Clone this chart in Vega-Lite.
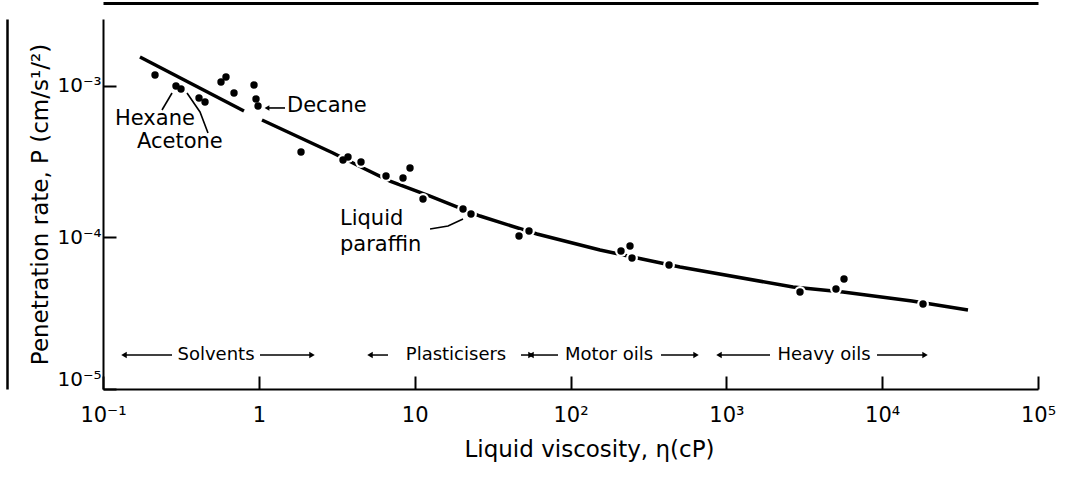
{
  "$schema": "https://vega.github.io/schema/vega-lite/v6.json",
  "width": 935,
  "height": 370,
  "autosize": {"type": "none"},
  "padding": {"left": 103, "top": 19, "right": 41, "bottom": 97},
  "background": "white",
  "config": {
    "view": {"stroke": null},
    "font": "DejaVu Sans",
    "axis": {"grid": false, "domainColor": "black", "tickColor": "black", "labelColor": "black", "titleColor": "black", "labelFont": "DejaVu Sans", "titleFont": "DejaVu Sans", "titleFontWeight": "normal", "labelFlush": false, "labelOverlap": false}
  },
  "datasets": {
    "points": [
      {"eta": 0.2157, "P": 0.001182}, {"eta": 0.294, "P": 0.001}, {"eta": 0.3166, "P": 0.0009555},
      {"eta": 0.4131, "P": 0.0008333}, {"eta": 0.4515, "P": 0.0007843}, {"eta": 0.5718, "P": 0.001063},
      {"eta": 0.6155, "P": 0.001147}, {"eta": 0.6929, "P": 0.000899}, {"eta": 0.9311, "P": 0.001015},
      {"eta": 0.959, "P": 0.0008207}, {"eta": 0.9879, "P": 0.0007379}, {"eta": 1.865, "P": 0.0003667},
      {"eta": 3.468, "P": 0.0003248}, {"eta": 3.734, "P": 0.00034}, {"eta": 4.526, "P": 0.0003149},
      {"eta": 6.549, "P": 0.0002546}, {"eta": 8.419, "P": 0.000247}, {"eta": 9.335, "P": 0.0002875},
      {"eta": 11.31, "P": 0.0001795}, {"eta": 20.43, "P": 0.0001542}, {"eta": 22.99, "P": 0.0001429},
      {"eta": 46.73, "P": 0.0001023}, {"eta": 54.17, "P": 0.0001104}, {"eta": 210.9, "P": 0.00008145},
      {"eta": 240.9, "P": 0.00008789}, {"eta": 248.1, "P": 0.00007321}, {"eta": 428.8, "P": 0.00006583},
      {"eta": 2970, "P": 0.00004369}, {"eta": 5054, "P": 0.00004573}, {"eta": 5691, "P": 0.00005323},
      {"eta": 18290, "P": 0.0000364}
    ],
    "curve": [
      {"seg": 1, "eta": 0.1727, "P": 0.001554}, {"seg": 1, "eta": 0.8029, "P": 0.000684},
      {"seg": 2, "eta": 1.048, "P": 0.0005965}, {"seg": 2, "eta": 2.992, "P": 0.0003613},
      {"seg": 2, "eta": 4.661, "P": 0.0002875}, {"seg": 2, "eta": 6.946, "P": 0.0002359},
      {"seg": 2, "eta": 12.55, "P": 0.0001878}, {"seg": 2, "eta": 26.26, "P": 0.0001386},
      {"seg": 2, "eta": 60.97, "P": 0.0001055}, {"seg": 2, "eta": 154.7, "P": 0.0000827},
      {"seg": 2, "eta": 287.6, "P": 0.0000721}, {"seg": 2, "eta": 504.5, "P": 0.0000639},
      {"seg": 2, "eta": 2678, "P": 0.0000471}, {"seg": 2, "eta": 5608, "P": 0.0000437},
      {"seg": 2, "eta": 15540, "P": 0.0000381}, {"seg": 2, "eta": 35540, "P": 0.0000332}
    ],
    "arrows": [
      {"id": "hexane", "ord": 1, "eta": 0.2391, "P": 0.0006944}, {"id": "hexane", "ord": 2, "eta": 0.2773, "P": 0.000899},
      {"id": "acetone", "ord": 1, "eta": 0.4718, "P": 0.0004896}, {"id": "acetone", "ord": 2, "eta": 0.4193, "P": 0.000674}, {"id": "acetone", "ord": 3, "eta": 0.346, "P": 0.000899},
      {"id": "decane", "ord": 1, "eta": 1.472, "P": 0.000716}, {"id": "decane", "ord": 2, "eta": 1.128, "P": 0.000716},
      {"id": "paraffin", "ord": 1, "eta": 12.55, "P": 0.0001138}, {"id": "paraffin", "ord": 2, "eta": 16.37, "P": 0.0001191}, {"id": "paraffin", "ord": 3, "eta": 20.43, "P": 0.0001325}
    ],
    "notes": [
      {"text": "Hexane", "eta": 0.1194, "P": 0.0006056},
      {"text": "Acetone", "eta": 0.1653, "P": 0.000427},
      {"text": "Decane", "eta": 1.516, "P": 0.000738},
      {"text": "Liquid", "eta": 3.318, "P": 0.0001325},
      {"text": "paraffin", "eta": 3.318, "P": 0.0000892}
    ],
    "ranges": [
      {"label": "Solvents", "a": 0.1364, "b": 0.2773, "m": 0.531, "c": 1.017, "d": 2.194, "P": 0.00001676},
      {"label": "Plasticisers", "a": 5.168, "b": 6.743, "m": 18.42, "c": 48.13, "d": 55.8, "P": 0.00001676},
      {"label": "Motor oils", "a": 55.8, "b": 83.17, "m": 176.7, "c": 380.9, "d": 639, "P": 0.00001676},
      {"label": "Heavy oils", "a": 897.5, "b": 1907, "m": 4236, "c": 9268, "d": 18840, "P": 0.00001676}
    ],
    "heads": [
      {"eta": 1.128, "P": 0.000716}
    ]
  },
  "resolve": {"axis": {"x": "independent", "y": "independent"}},
  "layer": [
    {
      "data": {"name": "curve"},
      "mark": {"type": "line", "color": "black", "strokeWidth": 3.5, "strokeCap": "butt"},
      "encoding": {
        "x": {"field": "eta", "type": "quantitative", "scale": {"type": "log", "domain": [0.1, 100000], "nice": false},
              "axis": {"orient": "top", "offset": 16, "domainWidth": 3, "ticks": false, "labels": false, "title": null}},
        "y": {"field": "P", "type": "quantitative", "scale": {"type": "log", "domain": [0.00001, 0.002768], "nice": false},
              "axis": {"orient": "left", "offset": 96, "domainWidth": 2.5, "ticks": false, "labels": false, "title": null}},
        "detail": {"field": "seg", "type": "nominal"}
      }
    },
    {
      "data": {"name": "points"},
      "mark": {"type": "circle", "color": "white", "opacity": 1, "size": 140},
      "encoding": {
        "x": {"field": "eta", "type": "quantitative", "scale": {"type": "log", "domain": [0.1, 100000], "nice": false}, "axis": null},
        "y": {"field": "P", "type": "quantitative", "scale": {"type": "log", "domain": [0.00001, 0.002768], "nice": false}, "axis": null}
      }
    },
    {
      "data": {"name": "points"},
      "mark": {"type": "circle", "color": "black", "opacity": 1, "size": 55},
      "encoding": {
        "x": {"field": "eta", "type": "quantitative", "scale": {"type": "log", "domain": [0.1, 100000], "nice": false},
              "axis": {"orient": "bottom", "values": [0.1, 1, 10, 100, 1000, 10000, 100000],
                       "labelExpr": "datum.value < 0.5 ? '10⁻¹' : datum.value < 5 ? '1' : datum.value < 50 ? '10' : datum.value < 500 ? '10²' : datum.value < 5000 ? '10³' : datum.value < 50000 ? '10⁴' : '10⁵'",
                       "tickSize": -13, "tickWidth": 2, "domainWidth": 2, "labelFontSize": 21, "labelPadding": 28,
                       "title": "Liquid viscosity, η(cP)", "titleFontSize": 23, "titleX": 486, "titleY": 49, "titleBaseline": "top"}},
        "y": {"field": "P", "type": "quantitative", "scale": {"type": "log", "domain": [0.00001, 0.002768], "nice": false},
              "axis": {"orient": "left", "values": [0.00001, 0.0001, 0.001],
                       "labelExpr": "datum.value < 0.00005 ? '10⁻⁵' : datum.value < 0.0005 ? '10⁻⁴' : '10⁻³'",
                       "labelBaseline": {"condition": {"test": "datum.value < 0.00002", "value": "bottom"}, "value": "middle"},
                       "tickSize": -13, "tickWidth": 2, "domainWidth": 2, "labelFontSize": 20, "labelPadding": 15,
                       "title": "Penetration rate, P (cm/s¹/²)", "titleFontSize": 23, "titleX": -63, "titleBaseline": "middle"}}
      }
    },
    {
      "data": {"name": "arrows"},
      "mark": {"type": "line", "color": "black", "strokeWidth": 1.6},
      "encoding": {
        "x": {"field": "eta", "type": "quantitative", "scale": {"type": "log", "domain": [0.1, 100000], "nice": false}, "axis": null},
        "y": {"field": "P", "type": "quantitative", "scale": {"type": "log", "domain": [0.00001, 0.002768], "nice": false}, "axis": null},
        "detail": {"field": "id", "type": "nominal"},
        "order": {"field": "ord", "type": "quantitative"}
      }
    },
    {
      "data": {"name": "notes"},
      "mark": {"type": "text", "align": "left", "baseline": "middle", "fontSize": 21, "color": "black"},
      "encoding": {
        "x": {"field": "eta", "type": "quantitative", "scale": {"type": "log", "domain": [0.1, 100000], "nice": false}, "axis": null},
        "y": {"field": "P", "type": "quantitative", "scale": {"type": "log", "domain": [0.00001, 0.002768], "nice": false}, "axis": null},
        "text": {"field": "text"}
      }
    },
    {
      "data": {"name": "ranges"},
      "mark": {"type": "rule", "color": "black", "strokeWidth": 1.5},
      "encoding": {
        "x": {"field": "a", "type": "quantitative", "scale": {"type": "log", "domain": [0.1, 100000], "nice": false}, "axis": null},
        "x2": {"field": "b"},
        "y": {"field": "P", "type": "quantitative", "scale": {"type": "log", "domain": [0.00001, 0.002768], "nice": false}, "axis": null}
      }
    },
    {
      "data": {"name": "ranges"},
      "mark": {"type": "rule", "color": "black", "strokeWidth": 1.5},
      "encoding": {
        "x": {"field": "c", "type": "quantitative", "scale": {"type": "log", "domain": [0.1, 100000], "nice": false}, "axis": null},
        "x2": {"field": "d"},
        "y": {"field": "P", "type": "quantitative", "scale": {"type": "log", "domain": [0.00001, 0.002768], "nice": false}, "axis": null}
      }
    },
    {
      "data": {"name": "ranges"},
      "mark": {"type": "text", "align": "center", "baseline": "middle", "fontSize": 18, "color": "black"},
      "encoding": {
        "x": {"field": "m", "type": "quantitative", "scale": {"type": "log", "domain": [0.1, 100000], "nice": false}, "axis": null},
        "y": {"field": "P", "type": "quantitative", "scale": {"type": "log", "domain": [0.00001, 0.002768], "nice": false}, "axis": null},
        "text": {"field": "label"}
      }
    },
    {
      "data": {"name": "ranges"},
      "mark": {"type": "point", "shape": "triangle-left", "filled": true, "color": "black", "opacity": 1, "size": 40},
      "encoding": {
        "x": {"field": "a", "type": "quantitative", "scale": {"type": "log", "domain": [0.1, 100000], "nice": false}, "axis": null},
        "y": {"field": "P", "type": "quantitative", "scale": {"type": "log", "domain": [0.00001, 0.002768], "nice": false}, "axis": null}
      }
    },
    {
      "data": {"name": "ranges"},
      "mark": {"type": "point", "shape": "triangle-right", "filled": true, "color": "black", "opacity": 1, "size": 40},
      "encoding": {
        "x": {"field": "d", "type": "quantitative", "scale": {"type": "log", "domain": [0.1, 100000], "nice": false}, "axis": null},
        "y": {"field": "P", "type": "quantitative", "scale": {"type": "log", "domain": [0.00001, 0.002768], "nice": false}, "axis": null}
      }
    },
    {
      "data": {"name": "heads"},
      "mark": {"type": "point", "shape": "triangle-left", "filled": true, "color": "black", "opacity": 1, "size": 30},
      "encoding": {
        "x": {"field": "eta", "type": "quantitative", "scale": {"type": "log", "domain": [0.1, 100000], "nice": false}, "axis": null},
        "y": {"field": "P", "type": "quantitative", "scale": {"type": "log", "domain": [0.00001, 0.002768], "nice": false}, "axis": null}
      }
    }
  ]
}
